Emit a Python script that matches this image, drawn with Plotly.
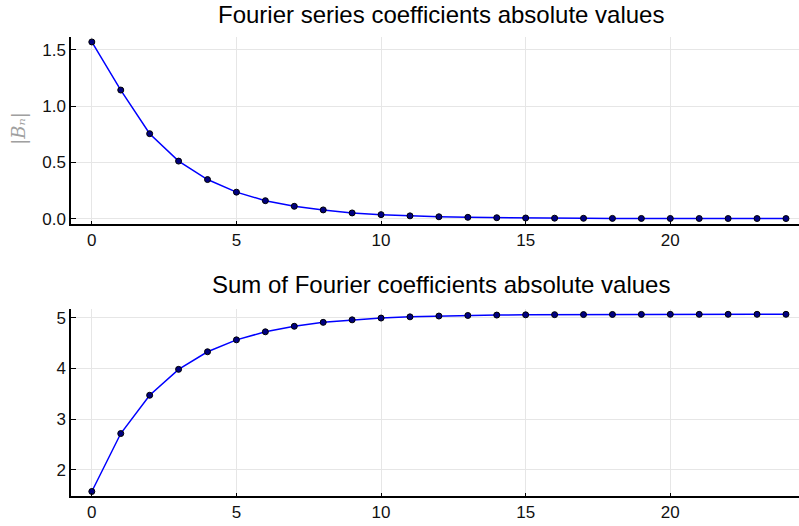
import plotly.graph_objects as go
from plotly.subplots import make_subplots

# harmonic index
n = list(range(25))

# |B_n| for each harmonic
b_abs = [1.5708, 1.143, 0.755, 0.511, 0.347, 0.235, 0.159, 0.109, 0.077, 0.050,
         0.035, 0.024, 0.016, 0.011, 0.0075, 0.005, 0.0035, 0.0024, 0.0016, 0.0011,
         0.00075, 0.0005, 0.00035, 0.00024, 0.00016]

# running sum of |B_n|
b_sum = [1.571, 2.714, 3.469, 3.980, 4.327, 4.562, 4.721, 4.830, 4.907, 4.957,
         4.992, 5.016, 5.032, 5.043, 5.051, 5.056, 5.059, 5.061, 5.063, 5.064,
         5.065, 5.065, 5.066, 5.066, 5.066]

titles = ["Fourier series coefficients absolute values",
          "Sum of Fourier coefficients absolute values"]

W, H = 799, 526
fig = make_subplots(rows=2, cols=1, vertical_spacing=0.1)

line_style = dict(color="#0000ff", width=1.5)
marker_style = dict(color="#000080", size=6, line=dict(color="#000000", width=1))

for row, ys in ((1, b_abs), (2, b_sum)):
    fig.add_trace(go.Scatter(x=n, y=ys, mode="lines+markers", line=line_style,
                             marker=marker_style, showlegend=False), row=row, col=1)

axis_common = dict(showgrid=True, gridcolor="#e6e6e6", gridwidth=1,
                   showline=True, linecolor="#000000", linewidth=1.5,
                   ticks="inside", tickcolor="#000000", zeroline=False,
                   tickfont=dict(family="Liberation Sans, Arial", size=17, color="#111111"),
                   mirror=False)

# pixel layout of the two panels
left, right = 71, 799
top1, bot1 = 37, 226
top2, bot2 = 312, 501

fig.update_layout(
    width=W, height=H,
    margin=dict(l=0, r=0, t=0, b=0),
    paper_bgcolor="white", plot_bgcolor="white",
    xaxis=dict(domain=[left / W, right / W], range=[-0.72, 24.45],
               tickvals=[0, 5, 10, 15, 20], ticklen=3, anchor="y", **axis_common),
    yaxis=dict(domain=[1 - bot1 / H, 1 - top1 / H], range=[-0.047, 1.618],
               tickvals=[0.0, 0.5, 1.0, 1.5], ticktext=["0.0", "0.5", "1.0", "1.5"],
               ticklen=5, anchor="x", **axis_common),
    xaxis2=dict(domain=[left / W, right / W], range=[-0.72, 24.45],
                tickvals=[0, 5, 10, 15, 20], ticklen=3, anchor="y2", **axis_common),
    yaxis2=dict(domain=[1 - bot2 / H, 1 - top2 / H], range=[1.477, 5.17],
                tickvals=[2, 3, 4, 5], ticklen=5, anchor="x2", **axis_common),
)

title_font = dict(family="Liberation Sans, Arial", size=24, color="#000000")
fig.add_annotation(text=titles[0], xref="paper", yref="paper",
                   x=(left + right) / 2 / W + 0.008, y=1 - 15 / H, showarrow=False,
                   xanchor="center", yanchor="middle", font=title_font)
fig.add_annotation(text=titles[1], xref="paper", yref="paper",
                   x=(left + right) / 2 / W + 0.008, y=1 - 287 / H, showarrow=False,
                   xanchor="center", yanchor="middle", font=title_font)

# y label of the upper panel
fig.add_annotation(text="|<i>Bₙ</i>|", xref="paper", yref="paper",
                   x=19 / W, y=1 - 130 / H, showarrow=False, textangle=-90,
                   xanchor="center", yanchor="middle",
                   font=dict(family="DejaVu Serif, Liberation Serif", size=18, color="#a0a0a0"))

fig.write_html("out.html")
